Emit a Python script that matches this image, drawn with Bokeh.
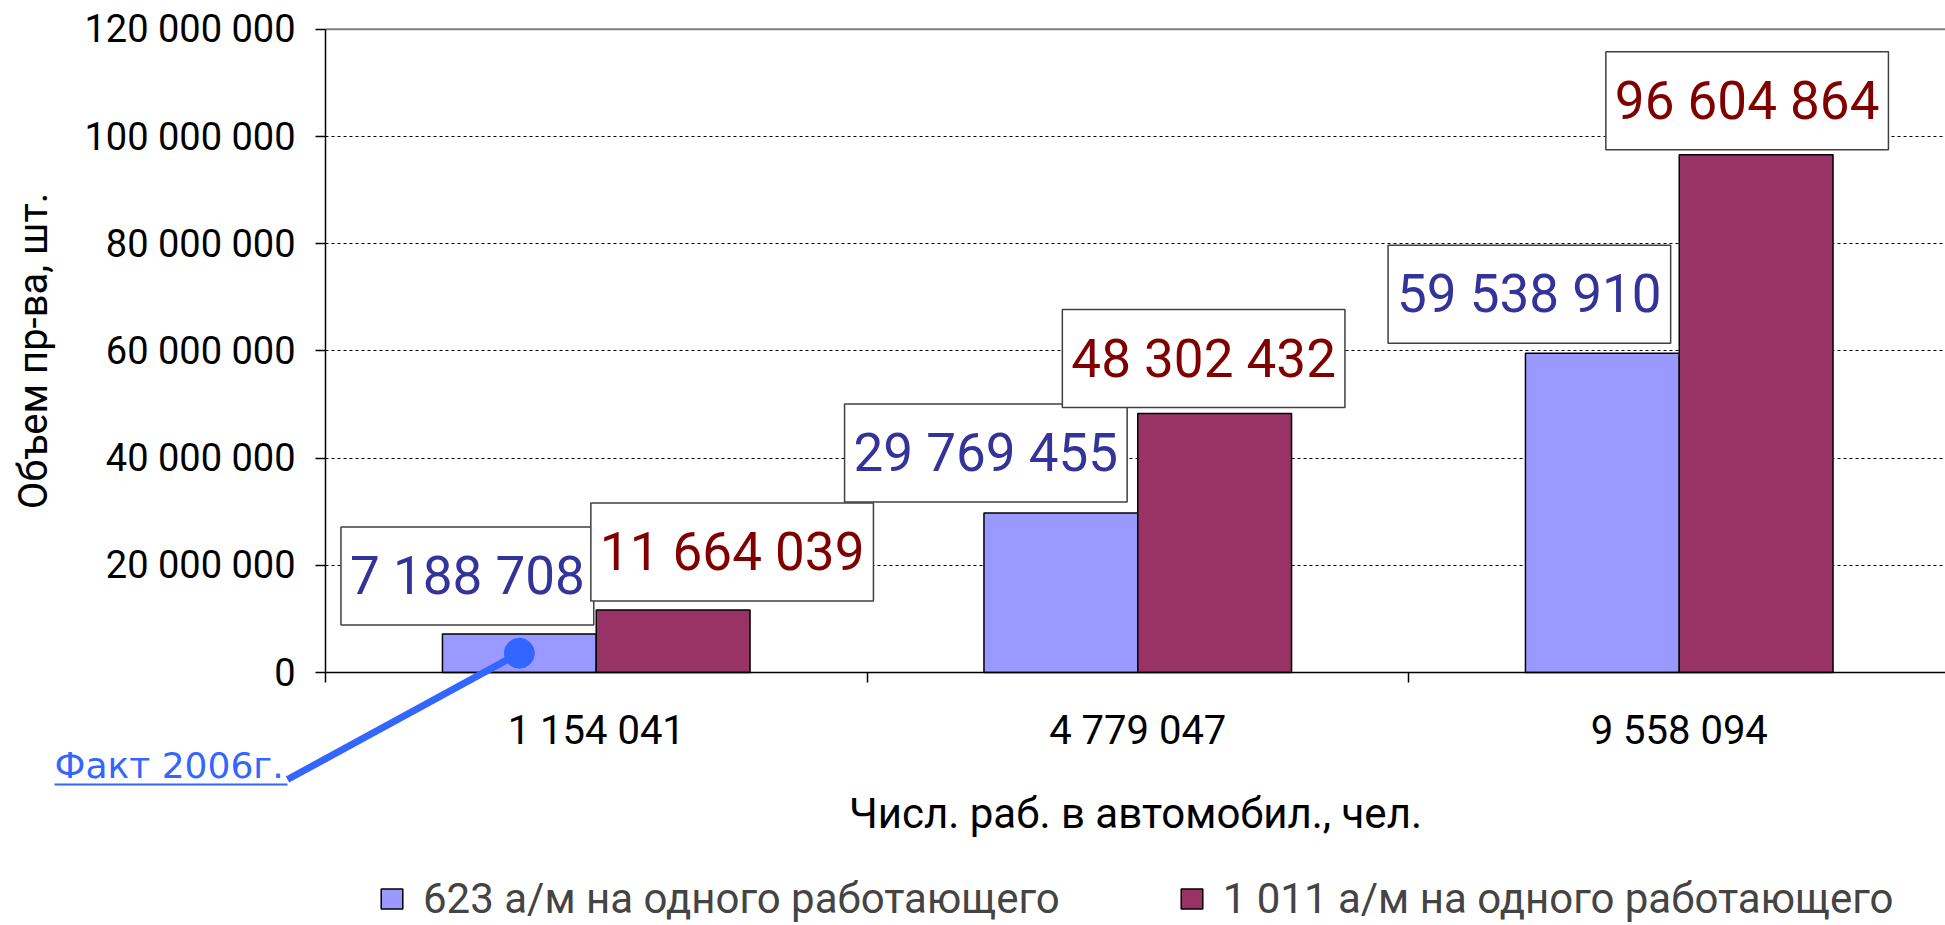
from bokeh.plotting import figure
from bokeh.models import Range1d, FixedTicker, Label, Legend, LegendItem, Arrow
from bokeh.embed import file_html
from bokeh.resources import INLINE

# ---- data ----
categories = ["1 154 041", "4 779 047", "9 558 094"]
series_names = ["623 а/м на одного работающего", "1 011 а/м на одного работающего"]
values_623 = [7188708, 29769455, 59538910]
values_1011 = [11664039, 48302432, 96604864]
y_ticks = [0, 20000000, 40000000, 60000000, 80000000, 100000000, 120000000]
y_tick_labels = ["0", "20 000 000", "40 000 000", "60 000 000", "80 000 000", "100 000 000", "120 000 000"]
x_title = "Числ. раб. в автомобил., чел."
y_title = "Объем пр-ва, шт."
note_text = "Факт 2006г."

# ---- layout / style ----
FONT = "Roboto"
BLUE_FILL = "#9999FF"
RED_FILL = "#993366"
BLUE_TEXT = "#333399"
RED_TEXT = "#800000"
NOTE_COLOR = "#3366FF"
bar_w = 0.284

W, H = 1945, 925
AX_X, AX_Y = 325, 672          # pixel position of the axes origin
PX_PER_CAT = 541.5             # pixels per category
PX_PER_20M = 107.2             # pixels per 20 000 000
y_top = y_ticks[-1]


def px_to_x(px):
    return (px - AX_X) / PX_PER_CAT


def py_to_y(py):
    return (AX_Y - py) / PX_PER_20M * 20000000


x_min, x_max = px_to_x(0), px_to_x(W)
y_min, y_max = py_to_y(H), py_to_y(0)

# manual label offsets (px) of each data label box centre from its bar top
blue_offsets = [(-52, 58), (-75, 60), (-73, 59)]
red_offsets = [(59, 58), (-11, 55), (-9, 54)]

p = figure(width=W, height=H, output_backend="svg", toolbar_location=None,
           x_range=Range1d(x_min, x_max), y_range=Range1d(y_min, y_max),
           min_border_left=0, min_border_right=0, min_border_top=0,
           min_border_bottom=0)
p.title.visible = False
p.outline_line_color = None
p.background_fill_color = "white"
p.border_fill_color = "white"

n = len(categories)
x_blue = [i + 0.5 - bar_w / 2 for i in range(n)]
x_red = [i + 0.5 + bar_w / 2 for i in range(n)]

# grid
p.xgrid.visible = False
p.ygrid.grid_line_color = "black"
p.ygrid.grid_line_dash = "3 3"
p.ygrid.grid_line_width = 1
p.ygrid.level = "underlay"
try:
    p.ygrid.cross_bounds = (0, n)
    p.ygrid.bounds = (0, y_top)
except Exception:
    p.ygrid.visible = False
    p.segment(x0=[0] * (len(y_ticks) - 1), x1=[n] * (len(y_ticks) - 1),
              y0=y_ticks[1:], y1=y_ticks[1:], line_color="black",
              line_dash="3 3", line_width=1, level="underlay")
# plot-area top border
p.segment(x0=[0], x1=[n], y0=[y_top], y1=[y_top], line_color="#808080", line_width=2)

r1 = p.vbar(x=x_blue, top=values_623, width=bar_w, fill_color=BLUE_FILL,
            line_color="black", line_width=1.5)
r2 = p.vbar(x=x_red, top=values_1011, width=bar_w, fill_color=RED_FILL,
            line_color="black", line_width=1.5)

# y axis
yax = p.yaxis[0]
yax.fixed_location = 0
yax.bounds = (0, y_top)
yax.ticker = FixedTicker(ticks=y_ticks)
yax.major_label_overrides = {t: l for t, l in zip(y_ticks, y_tick_labels)}
yax.major_label_text_font = FONT
yax.major_label_text_font_size = "38px"
yax.major_label_text_color = "black"
yax.major_tick_out = 10
yax.major_tick_in = 0
yax.minor_tick_out = 0
yax.minor_tick_in = 0
yax.major_label_standoff = 20
yax.axis_line_color = "black"
yax.axis_line_width = 1.5
yax.major_tick_line_width = 1.5
yax.axis_label = y_title
yax.axis_label_text_font = FONT
yax.axis_label_text_font_size = "40px"
yax.axis_label_text_font_style = "normal"
yax.axis_label_text_color = "black"
yax.axis_label_standoff = 24

# x axis
xax = p.xaxis[0]
xax.fixed_location = 0
xax.bounds = (0, n)
centers = [i + 0.5 for i in range(n)]
xax.ticker = FixedTicker(ticks=centers, minor_ticks=list(range(n + 1)))
xax.major_label_overrides = {c: l for c, l in zip(centers, categories)}
xax.major_label_text_font = FONT
xax.major_label_text_font_size = "40px"
xax.major_label_text_color = "black"
xax.major_tick_out = 0
xax.major_tick_in = 0
xax.minor_tick_out = 10
xax.minor_tick_in = 0
xax.minor_tick_line_color = "black"
xax.minor_tick_line_width = 1.5
xax.major_label_standoff = 24
xax.axis_line_color = "black"
xax.axis_line_width = 1.5
xax.axis_label = x_title
xax.axis_label_text_font = FONT
xax.axis_label_text_font_size = "42px"
xax.axis_label_text_font_style = "normal"
xax.axis_label_text_color = "black"
xax.axis_label_standoff = 32

# data labels
def fmt(v):
    return f"{v:,}".replace(",", " ")

for xs, vals, offs, col in ((x_blue, values_623, blue_offsets, BLUE_TEXT),
                            (x_red, values_1011, red_offsets, RED_TEXT)):
    for x, v, (dx, dy) in zip(xs, vals, offs):
        p.add_layout(Label(x=x, y=v, x_offset=dx, y_offset=dy, text=fmt(v),
                           text_font=FONT, text_font_size="53px", text_color=col,
                           text_align="center", text_baseline="middle",
                           background_fill_color="white",
                           border_line_color="#404040", border_line_width=1.5,
                           padding=dict(left=9, right=9, top=18, bottom=18)))

# "Факт 2006г." pointer
note_x0, note_x1 = px_to_x(54), px_to_x(287)
note_mid_y = py_to_y(765)
line_end_y = py_to_y(779)
underline_y = py_to_y(784)
px0, py0 = x_blue[0], values_623[0] / 2
p.scatter(x=[px0], y=[py0], size=30, color=NOTE_COLOR)
p.add_layout(Arrow(end=None, x_start=px0, y_start=py0, x_end=note_x1, y_end=line_end_y,
                   line_color=NOTE_COLOR, line_width=7))
p.add_layout(Label(x=note_x0, y=note_mid_y, text=note_text, text_font="DejaVu Sans",
                   text_font_size="36px", text_color=NOTE_COLOR,
                   text_align="left", text_baseline="middle"))
p.add_layout(Arrow(end=None, x_start=note_x0, y_start=underline_y, x_end=note_x1,
                   y_end=underline_y, line_color=NOTE_COLOR, line_width=2))

# legend
legend = Legend(items=[LegendItem(label=series_names[0], renderers=[r1]),
                       LegendItem(label=series_names[1], renderers=[r2])],
                orientation="horizontal", location=(378, 2),
                label_text_font=FONT, label_text_font_size="42px",
                glyph_width=27, glyph_height=25, label_standoff=18, spacing=118,
                padding=0, margin=0, border_line_color=None,
                background_fill_alpha=0)
p.add_layout(legend, "center")

open("out.html", "w").write(file_html(p, INLINE))
